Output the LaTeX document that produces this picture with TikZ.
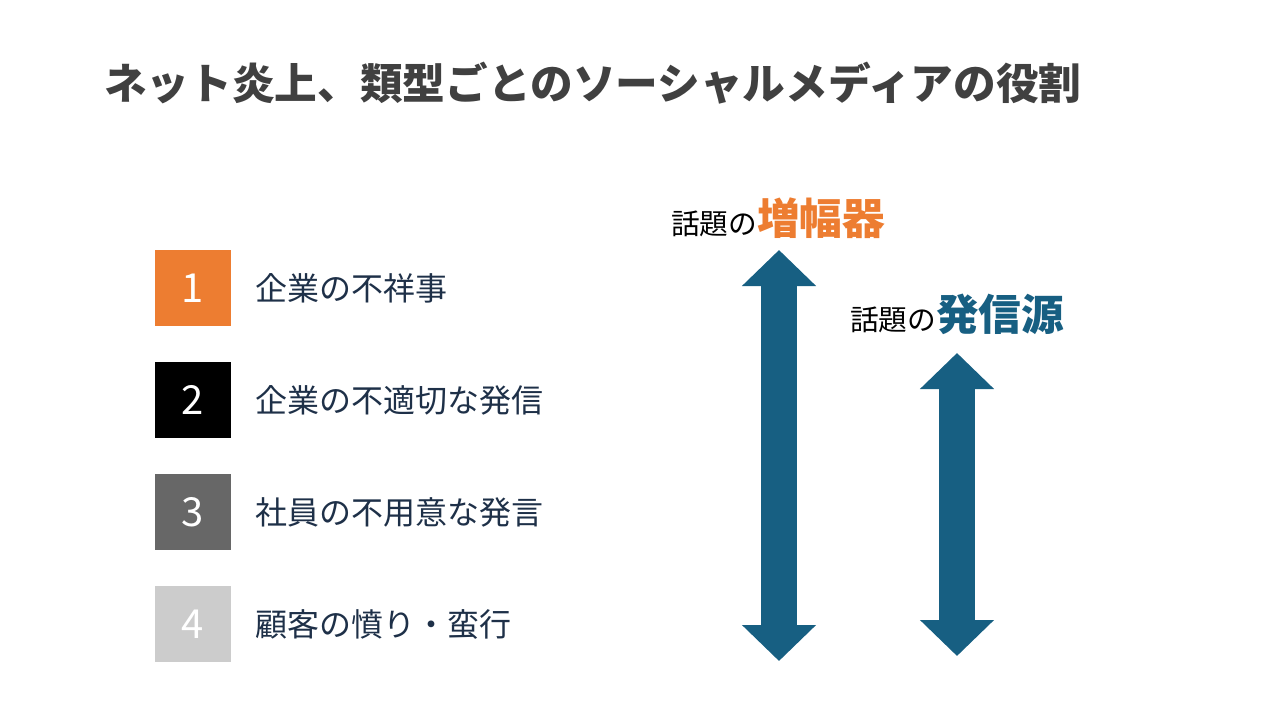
\documentclass[tikz,border=0pt]{standalone}
\usepackage{fontspec}
\setmainfont{Noto Sans CJK JP}
\usepackage{xcolor}
\usetikzlibrary{positioning,arrows.meta}
\definecolor{titlegray}{HTML}{404040}
\definecolor{slideorange}{HTML}{ED7D31}
\definecolor{slideblue}{HTML}{175F82}
\definecolor{itemnavy}{HTML}{1E3048}
\definecolor{boxgray}{HTML}{676767}
\definecolor{boxlight}{HTML}{CCCCCC}
\tikzset{
  numbox/.style={minimum size=57pt,inner sep=0pt,text=white,font=\fontsize{30}{34}\selectfont},
  itemtext/.style={inner sep=0pt,anchor=west,text=itemnavy,font=\fontsize{24}{28}\selectfont},
  bigarrow/.style={draw=slideblue,line width=27pt,line cap=butt,
    {Triangle[width=54pt,length=27pt]}-{Triangle[width=54pt,length=27pt]}}
}

\begin{document}
\begin{tikzpicture}[x=0.75pt,y=-0.75pt]
  \useasboundingbox (0,0) rectangle (1280,720);
  \node[anchor=west,inner sep=0pt,text=titlegray,font=\fontsize{32}{36}\selectfont\bfseries] at (104,83) (title) {ネット炎上、類型ごとのソーシャルメディアの役割};

  \node[numbox,fill=slideorange] at (193,288) (n1) {1};
  \node[numbox,fill=black] at (193,400) (n2) {2};
  \node[numbox,fill=boxgray] at (193,512) (n3) {3};
  \node[numbox,fill=boxlight] at (193,624) (n4) {4};
  \node[itemtext,right=18pt of n1] (t1) {企業の不祥事};
  \node[itemtext,right=18pt of n2] (t2) {企業の不適切な発信};
  \node[itemtext,right=18pt of n3] (t3) {社員の不用意な発言};
  \node[itemtext,right=18pt of n4] (t4) {顧客の憤り・蛮行};

  \coordinate (ampTop) at (779,250);
  \coordinate (ampBot) at (779,661);
  \coordinate (srcTop) at (957,353);
  \coordinate (srcBot) at (957,656);
  \draw[bigarrow] (ampBot) -- (ampTop);
  \draw[bigarrow] (srcBot) -- (srcTop);

  \node[anchor=base west,inner sep=0pt] at (671,234) (amp) {{\fontsize{21.5}{24}\selectfont 話題の}{\fontsize{32}{36}\selectfont\bfseries\color{slideorange}増幅器}};
  \node[anchor=base west,inner sep=0pt] at (850,330) (src) {{\fontsize{21.5}{24}\selectfont 話題の}{\fontsize{32}{36}\selectfont\bfseries\color{slideblue}発信源}};
\end{tikzpicture}
\end{document}
